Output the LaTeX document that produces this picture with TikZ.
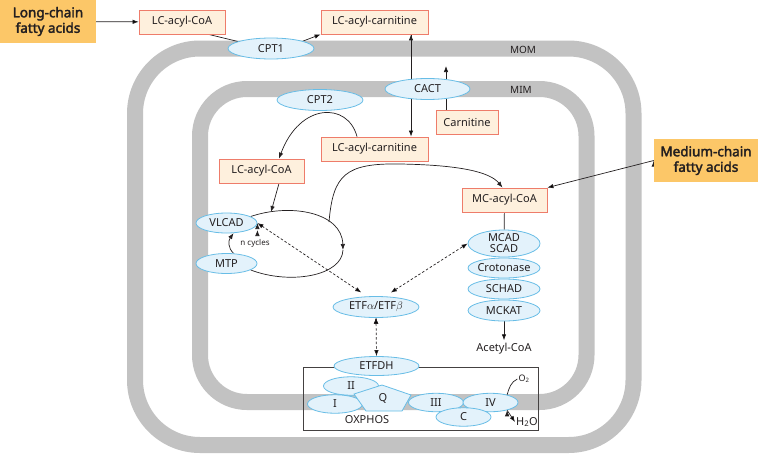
\documentclass[tikz,border=0pt]{standalone}
\usepackage{fontspec}
\setmainfont{Noto Sans}[BoldFont={Noto Sans},BoldFeatures={FakeBold=2.5}]
\usepackage{amsmath}
\usetikzlibrary{arrows.meta}
\usetikzlibrary{shapes.geometric,backgrounds}

\definecolor{fatorange}{RGB}{252,199,104}
\definecolor{boxfill}{RGB}{254,240,221}
\definecolor{boxline}{RGB}{238,124,106}
\definecolor{enzfill}{RGB}{227,242,251}
\definecolor{enzline}{RGB}{104,189,230}
\definecolor{membrane}{RGB}{194,194,194}
\definecolor{ink}{RGB}{35,31,32}

\begin{document}
\begin{tikzpicture}[x=1pt,y=-1pt,font=\fontsize{11}{12}\selectfont,text=ink]
  \tikzset{fatty/.style = {shape=rectangle,fill=fatorange,minimum height=43pt,align=center,font=\fontsize{13.5}{15.5}\selectfont\bfseries}}
  \tikzset{metab/.style = {shape=rectangle,draw=boxline,fill=boxfill,minimum height=24pt,inner sep=2pt,line width=0.8pt}}
  \tikzset{enzyme/.style = {shape=ellipse,draw=enzline,fill=enzfill,minimum width=86pt,minimum height=21pt,inner sep=0pt,line width=0.8pt}}
  \tikzset{chainenz/.style = {enzyme,minimum width=72pt,minimum height=20pt,inner xsep=-2.5pt}}
  \tikzset{complex/.style = {enzyme,minimum width=55pt,minimum height=18.5pt}}
  \tikzset{memb/.style = {draw=membrane,line width=16pt}}
  \tikzset{conn/.style = {draw=ink,line width=0.7pt}}
  \tikzset{etf/.style = {conn,dash pattern=on 2.5pt off 2pt}}
  \tikzset{%
  tipA/.tip={Latex[length=6pt,width=4.5pt]},
  }

  \useasboundingbox (0,0) rectangle (759,455);

	\node[fatty,minimum width=96pt] (LCFA) at (48,21.5) {Long-chain\\fatty acids};
	\node[metab,minimum width=86pt] (LCCoAout) at (182,22) {LC-acyl-CoA};
	\node[enzyme] (CPTone) at (271,48.5) {CPT1};
	\node[metab,minimum width=107pt] (LCCarnOut) at (374.5,22) {LC-acyl-carnitine};
	\node[enzyme,minimum width=85pt] (CACT) at (427.5,89) {CACT};
	\node[metab,minimum width=62pt] (Carn) at (467,122) {Carnitine};
	\node[enzyme] (CPTtwo) at (320,100) {CPT2};
	\node[metab,minimum width=107pt] (LCCarnIn) at (374.5,149) {LC-acyl-carnitine};
	\node[metab,minimum width=85pt] (LCCoAin) at (261.5,171) {LC-acyl-CoA};
	\node[enzyme,minimum width=61pt,minimum height=20pt] (VLCAD) at (226.5,223) {VLCAD};
	\node[enzyme,minimum width=61pt,minimum height=20pt] (MTP) at (226.5,263.5) {MTP};
	\node[font=\fontsize{8}{10}\selectfont] (ncyc) at (255,243) {n cycles};

	\node[fatty,minimum width=104pt] (MCFA) at (706,160.5) {Medium-chain\\fatty acids};
	\node[metab,minimum width=85pt] (MCCoA) at (504.5,200) {MC-acyl-CoA};
	\node[chainenz,minimum height=27pt,inner ysep=-2pt,align=center,font=\fontsize{11}{11}\selectfont] (MCAD) at (504,243.5) {MCAD\\SCAD};
	\node[chainenz] (Crot) at (504,268) {Crotonase};
	\node[chainenz] (SCHAD) at (504,289) {SCHAD};
	\node[chainenz,minimum height=21pt] (MCKAT) at (504,310.5) {MCKAT};
	\node[inner sep=3pt] (AcCoA) at (504,349) {Acetyl-CoA};

	\node[enzyme] (ETF) at (376,307) {ETF$\alpha$/ETF$\beta$};

	\node[draw=ink!85,line width=0.7pt,minimum width=235pt,minimum height=63pt] (OXbox) at (420.5,398.5) {};
	\node[enzyme,minimum width=85pt,minimum height=19pt] (ETFDH) at (376.5,366) {ETFDH};
	\node[complex] (CII) at (351,386) {II};
	\node[complex] (CI) at (335,404) {I};
	\filldraw[draw=enzline,fill=enzfill,line width=0.8pt] (354,394) -- (382,385) -- (411,395) -- (402,411) -- (366,411) -- cycle;
	\node (Q) at (383,398) {Q};
	\node[complex] (CIII) at (436,402.5) {III};
	\node[complex] (CIV) at (490.5,402.5) {IV};
	\node[complex] (CC) at (463.5,417) {C};
	\node (OXlabel) at (367,420) {OXPHOS};
	\node[font=\fontsize{9}{10}\selectfont,inner sep=1pt] (Otwo) at (524,379) {O\textsubscript{2}};
	\node[inner sep=1pt] (Htwo) at (527,422) {H\textsubscript{2}O};

	\node[font=\fontsize{10}{12}\selectfont] (MOM) at (523,50) {MOM};
	\node[font=\fontsize{10}{12}\selectfont] (MIM) at (521,90) {MIM};

	\coordinate (carnup) at (446,66);
	\coordinate (looptop) at (271,212);
	\coordinate (loopend) at (343,250);
	\coordinate (branch) at (329,222);

  \begin{scope}[on background layer]
    % membranes
    \draw[memb,rounded corners=65pt] (135,48.5) rectangle (633.5,445);
    \draw[memb,rounded corners=47pt] (200,89) rectangle (586.5,402);

    \foreach \from/\to in {LCFA/LCCoAout, MCFA.west/MCCoA.north east, MCKAT/AcCoA, CPTone.13/LCCarnOut.south west, CIV.-25/Htwo.west}
    \path[conn,-tipA](\from) edge (\to);

    \foreach \from/\to in {LCCoAout.-25/CPTone.168, MCCoA/MCAD}
    \path[conn](\from) edge (\to);

    \path[conn,-tipA] ([xshift=36.5pt]LCCarnOut.south) edge ([xshift=36.5pt]LCCarnIn.north);
    \path[conn,-tipA] ([xshift=-21pt]Carn.north) edge (carnup);

    \draw[conn,-tipA] ([xshift=-17.5pt]LCCarnIn.north) .. controls (348,102) and (300,102) .. ([xshift=17.5pt]LCCoAin.north);
    \draw[conn,-tipA] ([xshift=17.5pt]LCCoAin.south) -- (looptop);

    % beta-oxidation loop
    \draw[conn,-tipA] (VLCAD.15) .. controls (290,203) and (342,212) .. (loopend);
    \draw[conn] (MTP.-15) .. controls (290,285) and (342,276) .. (loopend);
    \draw[conn,-tipA] (MTP.55) .. controls (228,248) and (228,241) .. (VLCAD.-55);
    \draw[conn,-tipA] (branch) .. controls (333,175) and (345,163) .. (400,164) .. controls (460,165) and (490,172) .. ([xshift=-2pt]MCCoA.north);

    % electron transfer
    \path[etf,tipA-tipA,shorten >=7pt] (VLCAD.east) edge (ETF.130);
    \path[etf,tipA-tipA,shorten <=7pt] (ETF.50) edge (MCAD.west);
    \path[etf,tipA-tipA] (ETF.south) edge (ETFDH.north);

    \draw[conn] (CIV.25) .. controls (509,388) and (511,382) .. (Otwo.west);
  \end{scope}
\end{tikzpicture}
\end{document}
